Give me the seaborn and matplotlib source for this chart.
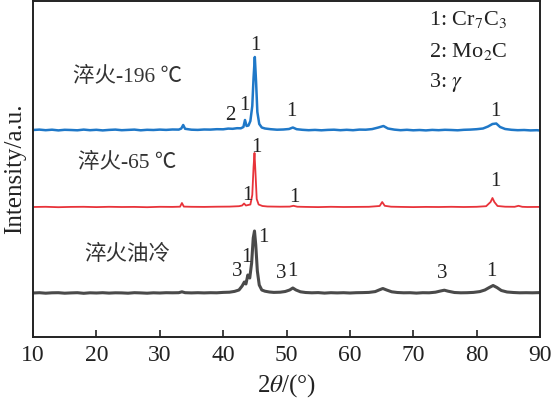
import pandas as pd
import matplotlib
matplotlib.use("Agg")
import matplotlib.pyplot as plt
import seaborn as sns

# 2theta positions and intensities (a.u., above each curve's own baseline)
blue_x = [10, 11, 12, 13, 14, 15, 16, 17, 18, 19, 20, 21, 22, 23, 24, 25, 26, 27, 28, 29, 30, 31, 32, 33,
          33.4, 33.7, 34.0, 35, 36, 37, 38, 39, 40, 40.8, 41.5, 42.2, 42.8, 43.2, 43.45, 43.7, 44.0, 44.3,
          44.6, 44.8, 45.0, 45.2, 45.4, 45.7, 46.1, 46.6, 47.5, 48.5, 49.5, 50.4, 51.0, 51.6, 52.5, 53.5,
          54.5, 55.5, 56.5, 57.5, 58.5, 59.5, 60.5, 61.5, 62.5, 63.5, 64.5, 65.3, 66.0, 67, 68, 69, 70, 71,
          72, 73, 74, 75, 76, 77, 78, 79, 80, 81, 81.8, 82.5, 83.1, 83.7, 84.5, 85.5, 86.5, 87.5, 88.5, 89.5, 90]
blue_y = [0.0, 0.4, -0.2, 0.3, -0.4, 0.2, 0.0, -0.3, 0.4, -0.2, 0.2, -0.4, 0.1, 0.4, -0.2, 0.1, 0.4, -0.3, 0.2, 0.0, 0.4, 0.1, 0.5, 0.4,
          1.5, 5.0, 1.2, 0.3, 0.1, 0.5, 0.4, 0.8, 0.7, 1.4, 1.2, 1.8, 1.7, 3.0, 10.0, 4.0, 4.5, 9.0,
          24.0, 52.0, 73.0, 48.0, 18.0, 6.0, 2.5, 1.5, 0.8, 0.3, 0.5, 1.0, 2.5, 0.8, 0.2, -0.2,
          0.1, -0.3, 0.1, 0.3, -0.2, 0.2, -0.2, 0.4, 0.3, 0.9, 2.5, 4.0, 1.5, 0.4, -0.2, 0.2, -0.3, 0.0,
          -0.4, 0.1, -0.2, 0.2, 0.0, -0.3, 0.2, 0.4, 0.8, 1.5, 3.5, 6.0, 6.5, 3.0, 1.0, 0.2, -0.2, 0.0, -0.4, -0.2, -0.5]

red_x = [10, 12, 14, 16, 18, 20, 22, 24, 26, 28, 30, 32, 33.2, 33.5, 33.8, 35, 37, 39, 41, 42.5, 43.0, 43.3,
         43.6, 44.3, 44.6, 44.8, 44.95, 45.1, 45.3, 45.6, 46.2, 47, 49, 50.5, 51.1, 51.7, 53, 55, 57, 59, 61,
         63, 64.7, 65.1, 65.5, 66.5, 68, 70, 72, 74, 76, 78, 80, 81.5, 82.2, 82.5, 82.8, 83.3, 84.5, 86,
         86.6, 87.2, 88, 90]
red_y = [0.0, 0.2, -0.2, 0.1, 0.2, -0.1, 0.2, 0.0, 0.1, -0.2, 0.2, 0.1, 0.3, 4.0, 0.4, 0.2, 0.1, 0.3, 0.4, 0.8, 1.5, 3.5,
         1.5, 2.5, 12.0, 40.0, 54.0, 35.0, 8.0, 2.5, 1.0, 0.5, 0.3, 0.4, 1.2, 0.3, 0.1, -0.1, 0.2, 0.0, 0.1,
         0.2, 1.0, 5.0, 1.2, 0.3, 0.1, -0.1, 0.1, 0.0, 0.2, 0.0, 0.2, 0.8, 5.0, 9.0, 5.0, 1.0, 0.3, 0.2,
         1.2, 0.2, 0.0, 0.1]

gray_x = [10, 11, 12, 13, 14, 15, 16, 17, 18, 19, 20, 21, 22, 23, 24, 25, 26, 27, 28, 29, 30, 31, 32, 33, 33.5,
          34, 35, 36, 37, 38, 39, 40, 41, 41.8, 42.5, 43.0, 43.35, 43.6, 43.9, 44.2, 44.5, 44.75, 44.95, 45.15,
          45.4, 45.7, 46.1, 46.6, 47.3, 48, 49, 49.8, 50.5, 51.0, 51.5, 52.2, 53, 54, 55, 56, 57, 58, 59, 60,
          61, 62, 63, 64, 64.6, 65.2, 65.8, 66.6, 67.5, 68.5, 69.5, 70.5, 71.5, 72.5, 73.5, 74.3, 74.9, 75.5,
          76.5, 77.5, 78.5, 79.5, 80.5, 81.3, 82.0, 82.6, 83.2, 83.9, 84.8, 85.8, 86.8, 87.8, 88.8, 90]
gray_y = [0.0, 0.3, -0.2, 0.2, 0.3, -0.2, 0.1, 0.3, -0.3, 0.2, 0.0, 0.3, -0.1, 0.2, 0.1, -0.2, 0.3, 0.1, -0.2, 0.2, 0.0, 0.3, 0.2, 0.3, 1.2,
          0.3, 0.1, 0.3, 0.1, 0.3, 0.2, 0.6, 0.8, 1.6, 3.0, 7.0, 11.0, 9.0, 18.0, 15.0, 30.0, 55.0, 62.0, 48.0,
          22.0, 8.0, 3.0, 1.8, 1.0, 0.6, 0.8, 1.5, 3.0, 5.0, 3.0, 1.2, 0.5, 0.2, 0.4, -0.1, 0.3, 0.1, 0.3, 0.0,
          0.3, 0.4, 0.6, 1.4, 3.0, 4.5, 3.0, 1.2, 0.5, 0.2, 0.3, -0.1, 0.3, 0.2, 0.8, 2.0, 2.8, 1.8,
          0.5, 0.2, 0.3, 0.6, 1.4, 3.0, 5.5, 7.5, 5.5, 2.5, 1.0, 0.5, 0.2, 0.3, 0.2, 0.4]

samples = ["淬火-196 ℃", "淬火-65 ℃", "淬火油冷"]
offsets = [207, 130, 44]

# peak markers: (2theta, height, phase)
blue_marks = [(45.1, 291, "1"), (41.1, 222, "2"), (43.4, 232, "1"), (50.8, 225, "1"), (83.0, 225, "1")]
red_marks = [(45.2, 190, "1"), (43.8, 142, "1"), (51.2, 140, "1"), (83.0, 155, "1")]
gray_marks = [(46.3, 100, "1"), (42.2, 65, "3"), (43.7, 80, "1"), (49.2, 64, "3"), (51.0, 65, "1"),
              (74.5, 64, "3"), (82.4, 66, "1")]
phase_labels = ["1: Cr$_7$C$_3$", "2: Mo$_2$C", "3: $\\gamma$"]

sns.set_style("ticks")
plt.rcParams["font.family"] = ["Liberation Serif", "Noto Sans CJK SC"]
plt.rcParams["mathtext.fontset"] = "stix"

fig = plt.figure(figsize=(5.53, 3.99), dpi=100)
ax = fig.add_axes([33 / 553, 62 / 399, 507 / 553, 336 / 399])

series = [(blue_x, blue_y, "#1f78c8", 1.8),
          (red_x, red_y, "#e8333a", 1.3),
          (gray_x, gray_y, "#4a4a4a", 2.2)]
for (xs, ys, color, lw), name, off in zip(series, samples, offsets):
    df = pd.DataFrame({"2theta": xs, "intensity": [v + off for v in ys]})
    sns.lineplot(data=df, x="2theta", y="intensity", color=color, linewidth=lw, ax=ax)

for marks in [blue_marks, red_marks, gray_marks]:
    for x, y, s in marks:
        ax.text(x, y, s, ha="center", va="center", fontsize=15, color="#222222")

label_y = [260, 174, 82]
for name, y in zip(samples, label_y):
    ax.text(24.9, y, name, ha="center", va="center", fontsize=15.5, color="#333333")

for i, s in enumerate(phase_labels):
    ax.text(72.5, 317 - i * 31, s, ha="left", va="center", fontsize=16, color="#222222")

ax.set_xlim(10, 90)
ax.set_ylim(0, 336)
ax.set_xticks(range(10, 91, 10))
ax.set_yticks([])
ax.tick_params(axis="x", direction="in", length=5, width=1.2, labelsize=17, pad=6, colors="#222222")
for sp in ax.spines.values():
    sp.set_visible(True)
    sp.set_linewidth(1.4)
    sp.set_color("#222222")
ax.set_xlabel("2$\\theta$/(°)", fontsize=18, labelpad=4, color="#222222")
ax.set_ylabel("Intensity/a.u.", fontsize=18, labelpad=5, color="#222222")

plt.savefig("out.png", dpi=100)
